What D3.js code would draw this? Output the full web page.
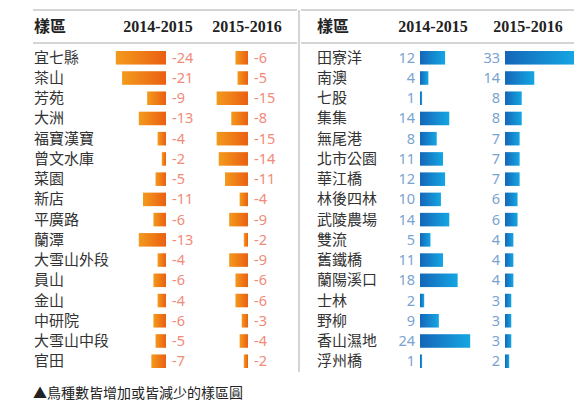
<!DOCTYPE html><html><head><meta charset="utf-8"><script src="https://cdn.jsdelivr.net/npm/d3@7"></script>
<style>body{margin:0;background:#fff}</style></head><body><svg id="c" width="587" height="408"></svg><script>
const leftSites=["宜七縣","茶山","芳苑","大洲","福寶漢寶","曾文水庫","菜園","新店","平廣路","蘭潭","大雪山外段","員山","金山","中研院","大雪山中段","官田"];
const left1415=[-24,-21,-9,-13,-4,-2,-5,-11,-6,-13,-4,-6,-4,-6,-5,-7];
const left1516=[-6,-5,-15,-8,-15,-14,-11,-4,-9,-2,-9,-6,-6,-3,-4,-2];
const rightSites=["田寮洋","南澳","七股","集集","無尾港","北市公園","華江橋","林後四林","武陵農場","雙流","舊鐵橋","蘭陽溪口","士林","野柳","香山濕地","浮州橋"];
const right1415=[12,4,1,14,8,11,12,10,14,5,11,18,2,9,24,1];
const right1516=[33,14,8,8,7,7,7,6,6,4,4,4,3,3,3,2];
const headers=["樣區","2014-2015","2015-2016"];
const footnote="▲鳥種數皆增加或皆減少的樣區圓";
const svg=d3.select("#c");
const defs=svg.append("defs");
const go=defs.append("linearGradient").attr("id","go");
go.append("stop").attr("offset","0").attr("stop-color","#f39a1c");go.append("stop").attr("offset","1").attr("stop-color","#ea5f12");
const gb=defs.append("linearGradient").attr("id","gb");
gb.append("stop").attr("offset","0").attr("stop-color","#1566b8");gb.append("stop").attr("offset","1").attr("stop-color","#14a6e2");
const y=d3.scaleBand().domain(d3.range(16)).range([51,368]).paddingInner(0.33);
const w=d3.scaleLinear().domain([0,33]).range([0,69]);
const cjk="'Noto Sans CJK TC',sans-serif";
svg.append("line").attr("x1",33).attr("x2",297).attr("y1",10).attr("y2",10).attr("stroke","#aaa");
svg.append("line").attr("x1",301).attr("x2",574).attr("y1",10).attr("y2",10).attr("stroke","#aaa");
svg.append("line").attr("x1",33).attr("x2",297).attr("y1",43).attr("y2",43).attr("stroke","#aaa");
svg.append("line").attr("x1",301).attr("x2",574).attr("y1",43).attr("y2",43).attr("stroke","#aaa");
svg.append("line").attr("x1",299).attr("x2",299).attr("y1",10).attr("y2",372).attr("stroke","#aaa");
function hdr(x,t,anchor,font){svg.append("text").attr("x",x).attr("y",32).attr("text-anchor",anchor).attr("font-family",font).attr("font-weight","bold").attr("font-size",t==="樣區"?16:16).attr("fill","#222").text(t);}
const serif="'Liberation Serif',serif";
hdr(34,headers[0],"start",cjk);hdr(158,headers[1],"middle",serif);hdr(247,headers[2],"middle",serif);
hdr(317,headers[0],"start",cjk);hdr(433,headers[1],"middle",serif);hdr(528,headers[2],"middle",serif);
function block(sites,x0){svg.append("g").selectAll("text").data(sites).join("text").attr("x",x0).attr("y",(d,i)=>y(i)+y.bandwidth()/2+5).attr("font-family",cjk).attr("font-size",15).attr("fill","#333").text(d=>d);}
block(leftSites,34);block(rightSites,317);
function negBars(vals,xr){const g=svg.append("g");
g.selectAll("rect").data(vals).join("rect").attr("x",d=>xr-w(-d)).attr("width",d=>w(-d)).attr("y",(d,i)=>y(i)).attr("height",y.bandwidth()).attr("fill","url(#go)");
g.selectAll("text").data(vals).join("text").attr("x",xr+6).attr("y",(d,i)=>y(i)+y.bandwidth()/2+5).attr("font-family","'Noto Sans',sans-serif").attr("font-size",14.5).attr("fill","#f28a78").text(d=>"-"+(-d));}
function posBars(vals,xl){const g=svg.append("g");
g.selectAll("rect").data(vals).join("rect").attr("x",xl).attr("width",d=>w(d)).attr("y",(d,i)=>y(i)).attr("height",y.bandwidth()).attr("fill","url(#gb)");
g.selectAll("text").data(vals).join("text").attr("x",xl-5).attr("text-anchor","end").attr("y",(d,i)=>y(i)+y.bandwidth()/2+5).attr("font-family","'Noto Sans',sans-serif").attr("font-size",14.5).attr("fill","#7aa3cf").text(d=>d);}
negBars(left1415,166);negBars(left1516,248);posBars(right1415,420);posBars(right1516,505);
svg.append("text").attr("x",33).attr("y",398).attr("font-family",cjk).attr("font-size",14).attr("fill","#222").text(footnote);
</script></body></html>
